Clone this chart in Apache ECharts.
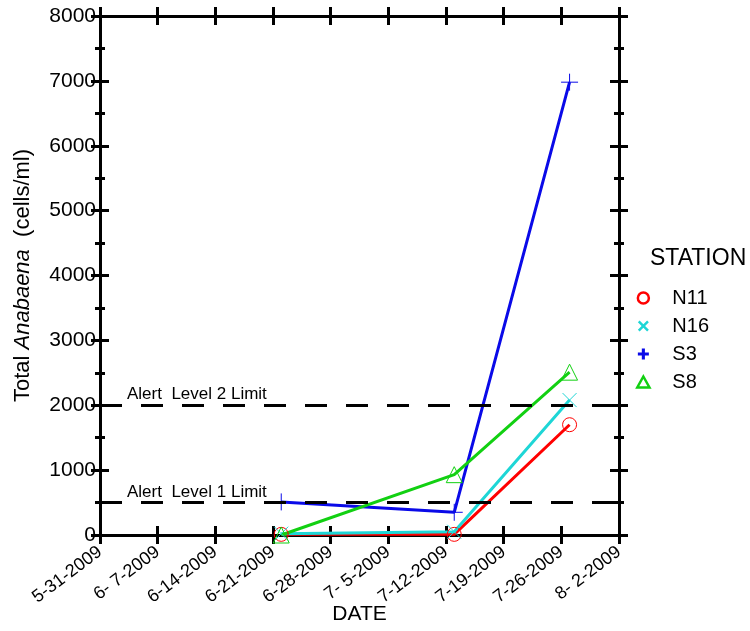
<!DOCTYPE html>
<html>
<head>
<meta charset="utf-8">
<script src="https://cdn.jsdelivr.net/npm/echarts@6/dist/echarts.min.js"></script>
<style>html,body{margin:0;padding:0;background:#fff;}#c{width:750px;height:631px;}</style>
</head>
<body>
<div id="c"></div>
<script>
const startDate = '2009-05-31';
const endDate = '2009-08-02';
const dates = ['2009-06-22', '2009-07-13', '2009-07-27'];
const n11 = [10, 10, 1700];
const n16 = [20, 50, 2080];
const s3 = [510, 350, 6980];
const s8 = [0, 930, 2510];
const xTickLabels = ['5-31-2009', '6- 7-2009', '6-14-2009', '6-21-2009', '6-28-2009', '7- 5-2009', '7-12-2009', '7-19-2009', '7-26-2009', '8- 2-2009'];
const alertLevels = [500, 2000];
const alertLabels = ['Alert  Level 1 Limit', 'Alert  Level 2 Limit'];

const FONT = 'Liberation Sans, Arial, sans-serif';
const DAY = 86400000;
const dayIndex = d => (Date.parse(d) - Date.parse(startDate)) / DAY;
const xMax = dayIndex(endDate);
const pts = arr => arr.map((v, i) => [dayIndex(dates[i]), v]);

const gridRect = { left: 100, right: 131, top: 16, bottom: 96, containLabel: false, outerBoundsMode: 'none' };

function xAx(grid, pos, inside, labels) {
  return {
    type: 'value', gridIndex: grid, position: pos, min: 0, max: xMax, interval: 7,
    axisLine: { show: true, onZero: false, lineStyle: { color: '#000', width: 3 } },
    axisTick: { show: true, inside: inside, length: 9, lineStyle: { color: '#000', width: 3 } },
    axisLabel: labels ? {
      show: true, rotate: 37, margin: 15, fontSize: 18, color: '#000', fontFamily: FONT,
      formatter: v => xTickLabels[Math.round(v / 7)]
    } : { show: false },
    splitLine: { show: false },
    name: labels ? 'DATE' : '', nameLocation: 'middle', nameGap: 69, nameMoveOverlap: false,
    nameTextStyle: { fontSize: 21, color: '#000', fontFamily: FONT }
  };
}
function yAx(grid, pos, inside, labels) {
  return {
    type: 'value', gridIndex: grid, position: pos, min: 0, max: 8000, interval: 1000,
    axisLine: { show: true, onZero: false, lineStyle: { color: '#000', width: 3 } },
    axisTick: { show: true, inside: inside, length: 9, lineStyle: { color: '#000', width: 3 } },
    minorTick: { show: true, splitNumber: 2, length: 5, lineStyle: { color: '#000', width: 3 } },
    axisLabel: labels ? { show: true, margin: 4, fontSize: 21, color: '#000', fontFamily: FONT, formatter: v => String(v) } : { show: false },
    splitLine: { show: false }, minorSplitLine: { show: false },
    name: labels ? '{n|Total }{i|Anabaena}{n|  (cells/ml)}' : '',
    nameLocation: 'middle', nameGap: 66, nameRotate: 90, nameMoveOverlap: false,
    nameTextStyle: {
      color: '#000', fontFamily: FONT, fontSize: 22,
      rich: {
        n: { fontSize: 22, color: '#000', fontFamily: FONT },
        i: { fontSize: 22, color: '#000', fontFamily: FONT, fontStyle: 'italic' }
      }
    }
  };
}

const plusPath = 'path://M0,5L10,5M5,0L5,10';
const xPath = 'path://M0,0L10,10M10,0L0,10';
const plusIcon = 'path://M0,3.6H3.6V0H6.4V3.6H10V6.4H6.4V10H3.6V6.4H0Z';
const xIcon = 'path://M1.6,0L5,3.4L8.4,0L10,1.6L6.6,5L10,8.4L8.4,10L5,6.6L1.6,10L0,8.4L3.4,5L0,1.6Z';
const triIcon = 'path://M5,0L10,9L0,9Z';

const C = { n11: '#ff0000', n16: '#1ed6d6', s3: '#0a0ae8', s8: '#12d012' };

function lineSeries(name, arr, color, symbol, size) {
  return {
    name: name, type: 'line', xAxisIndex: 0, yAxisIndex: 0, data: pts(arr),
    color: color, symbol: symbol, symbolSize: size, showSymbol: true,
    lineStyle: { color: color, width: 3 },
    itemStyle: { color: 'rgba(0,0,0,0)', borderColor: color, borderWidth: 1 },
    emphasis: { disabled: true }, z: 3
  };
}
function dummy(xi, yi) {
  return { name: '_d' + xi + yi, type: 'line', xAxisIndex: xi, yAxisIndex: yi, data: [], silent: true };
}

const option = {
  animation: false,
  backgroundColor: '#fff',
  title: {
    text: 'STATION', left: 645, top: 242,
    textStyle: { fontSize: 23, fontWeight: 'normal', color: '#000', fontFamily: FONT }
  },
  legend: {
    orient: 'vertical', left: 631, top: 283, itemWidth: 30, itemHeight: 11, itemGap: 8,
    textStyle: { fontSize: 20, color: '#000', fontFamily: FONT, padding: [0, 0, 0, 9] },
    data: [
      { name: 'N11', icon: 'circle', itemStyle: { color: '#fff', borderColor: C.n11, borderWidth: 2.5 } },
      { name: 'N16', icon: xIcon, itemStyle: { color: C.n16, borderWidth: 0 } },
      { name: 'S3', icon: plusIcon, itemStyle: { color: C.s3, borderWidth: 0 } },
      { name: 'S8', icon: triIcon, itemStyle: { color: '#fff', borderColor: C.s8, borderWidth: 2.5 } }
    ]
  },
  grid: [Object.assign({}, gridRect), Object.assign({}, gridRect)],
  xAxis: [xAx(0, 'bottom', false, true), xAx(0, 'top', false, false), xAx(1, 'bottom', true, false), xAx(1, 'top', true, false)],
  yAxis: [yAx(0, 'left', false, true), yAx(0, 'right', false, false), yAx(1, 'left', true, false), yAx(1, 'right', true, false)],
  series: [
    dummy(1, 1), dummy(2, 2), dummy(3, 3),
    {
      name: 'Alert', type: 'line', xAxisIndex: 0, yAxisIndex: 0, data: [], silent: true,
      markLine: {
        symbol: 'none', silent: true, animation: false,
        lineStyle: { color: '#000', width: 3, type: [22, 19] },
        label: {
          show: true, position: 'insideStartTop', color: '#000', fontSize: 17, fontFamily: FONT,
          distance: [27, 2],
          formatter: p => alertLabels[alertLevels.indexOf(p.value)]
        },
        data: alertLevels.map(v => ({ yAxis: v }))
      },
      z: 2
    },
    lineSeries('N11', n11, C.n11, 'circle', 14),
    lineSeries('N16', n16, C.n16, xPath, 14),
    lineSeries('S3', s3, C.s3, plusPath, 17),
    lineSeries('S8', s8, C.s8, 'triangle', 16)
  ]
};

const chart = echarts.init(document.getElementById('c'), null, { renderer: 'canvas' });
chart.setOption(option);
</script>
</body>
</html>
